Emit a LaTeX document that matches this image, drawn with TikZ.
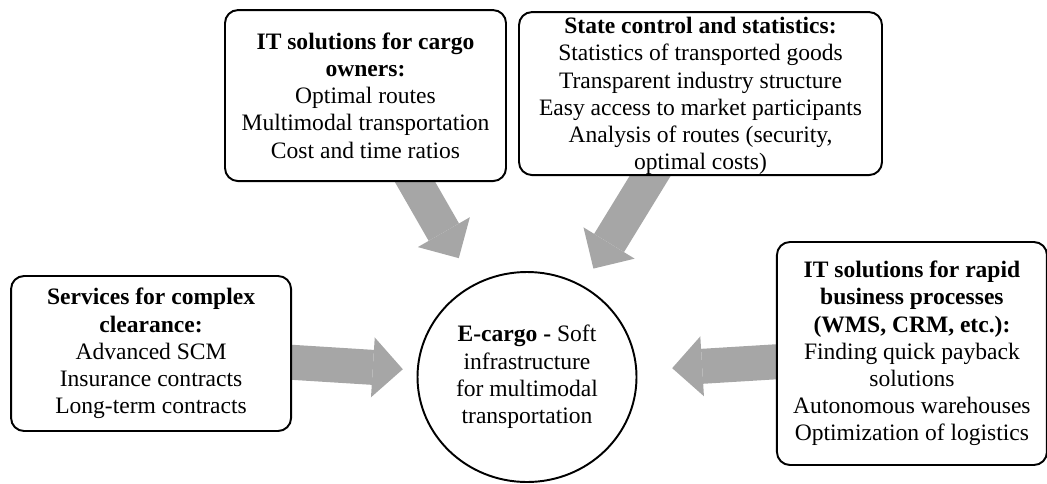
\documentclass[tikz,border=0pt]{standalone}
\usepackage{fontspec}
\setmainfont{Liberation Serif}
\usepackage{xcolor}
\usepackage{tikz}
\usetikzlibrary{shapes.geometric, arrows.meta, positioning, backgrounds}
\definecolor{arrowgray}{RGB}{166,166,166}
\tikzset{
  infobox/.style={draw, rectangle, rounded corners=0.26cm, line width=1.1pt, fill=white, align=center, inner sep=1pt, font=\fontsize{13.4}{15.5}\selectfont},
  hubnode/.style={draw, ellipse, line width=1.1pt, fill=white, align=center, inner sep=0pt, minimum width=4.38cm, minimum height=4.2cm, font=\fontsize{13.4}{15.5}\selectfont},
  bigarrow/.style={-{Triangle[width=1.2cm, length=0.6cm, line width=0pt]}, line width=0.7cm, color=arrowgray, shorten <=-0.4cm}
}

\begin{document}
\begin{tikzpicture}
\useasboundingbox (0,0) rectangle (20.94,9.66);

% Nodes
\node[hubnode] (ecargo) at (10.54,2.12) {\textbf{E-cargo -} Soft\\infrastructure\\for multimodal\\transportation};
\node[infobox, minimum width=5.6cm, minimum height=3.1cm, left=2.49cm of ecargo, yshift=0.47cm] (services) {\textbf{Services for complex}\\\textbf{clearance:}\\Advanced SCM\\Insurance contracts\\Long-term contracts};
\node[infobox, minimum width=5.4cm, minimum height=4.46cm, right=2.77cm of ecargo, yshift=0.47cm] (itrapid) {\textbf{IT solutions for rapid}\\\textbf{business processes}\\\textbf{(WMS, CRM, etc.):}\\Finding quick payback\\solutions\\Autonomous warehouses\\Optimization of logistics};
\node[infobox, minimum width=5.62cm, minimum height=3.42cm, above=1.78cm of ecargo, xshift=-3.23cm] (itowners) {\textbf{IT solutions for cargo}\\\textbf{owners:}\\Optimal routes\\Multimodal transportation\\Cost and time ratios};
\node[infobox, minimum width=7.26cm, minimum height=3.26cm, text depth=-0.1cm, above=1.9cm of ecargo, xshift=3.47cm] (statecontrol) {\textbf{State control and statistics:}\\Statistics of transported goods\\Transparent industry structure\\Easy access to market participants\\Analysis of routes (security,\\optimal costs)};

% Connections
\begin{scope}[on background layer]
\draw[bigarrow, shorten >=0.28cm] (services) -- (ecargo);
\draw[bigarrow, shorten >=0.6cm] (itowners) -- (ecargo);
\draw[bigarrow, shorten >=0.4cm] (statecontrol) -- (ecargo);
\draw[bigarrow, shorten >=0.7cm] (itrapid) -- (ecargo);
\end{scope}

\end{tikzpicture}
\end{document}
